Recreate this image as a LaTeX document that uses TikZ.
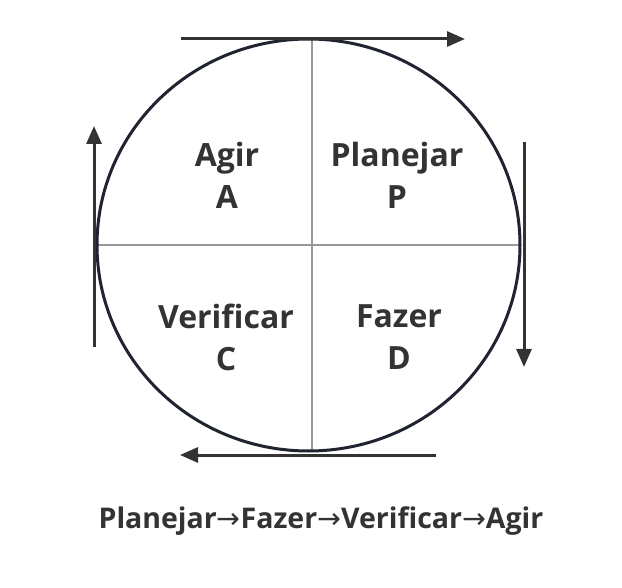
\documentclass[tikz,border=0pt]{standalone}
\usepackage{fontspec}
\setmainfont{Open Sans}
\newfontfamily\arrowfont{DejaVu Sans}
\usetikzlibrary{arrows.meta,shapes.geometric}
\definecolor{txt}{HTML}{333333}
\definecolor{rim}{HTML}{1F2430}
\definecolor{grid}{HTML}{999999}
\tikzset{
  flow/.style={line width=3pt, draw=txt, -{Triangle[length=18pt,width=15pt]}},
  quad/.style={font=\bfseries\fontsize{32}{42}\selectfont, text=txt, align=center, inner sep=0pt},
  divider/.style={draw=grid, line width=1.3pt},
  rimline/.style={draw=rim, line width=3pt}
}
\begin{document}
\begin{tikzpicture}[x=1pt,y=-1pt]
\useasboundingbox (0,0) rectangle (622,588);
\fill[white] (0,0) rectangle (622,588);
% dividers
\coordinate (vt) at (312,39);
\coordinate (vb) at (312,451);
\coordinate (hl) at (97,245);
\coordinate (hr) at (520,245);
\draw[divider] (vt) -- (vb);
\draw[divider] (hl) -- (hr);
% circle
\node[rimline, ellipse, minimum width=423pt, minimum height=412pt, inner sep=0pt] (ring) at (308.5,245) {};
% arrows
\coordinate (t1) at (181,39); \coordinate (t2) at (465,39);
\coordinate (r1) at (524,142); \coordinate (r2) at (524,367);
\coordinate (b1) at (436,455); \coordinate (b2) at (180,455);
\coordinate (l1) at (94,347); \coordinate (l2) at (94,126);
\draw[flow] (t1) -- (t2);
\draw[flow] (r1) -- (r2);
\draw[flow] (b1) -- (b2);
\draw[flow] (l1) -- (l2);
% labels
\node[quad] (A) at (227,175) {Agir\\A};
\node[quad] (P) at (397,175) {Planejar\\P};
\node[quad] (C) at (226,337) {Verificar\\C};
\node[quad] (D) at (399,337) {Fazer\\D};
\node[font=\bfseries\fontsize{28.5}{34}\selectfont, text=txt, inner sep=0pt] (seq) at (321,521)
  {Planejar{\arrowfont\mdseries →}Fazer{\arrowfont\mdseries →}Verificar{\arrowfont\mdseries →}Agir};
\end{tikzpicture}
\end{document}
